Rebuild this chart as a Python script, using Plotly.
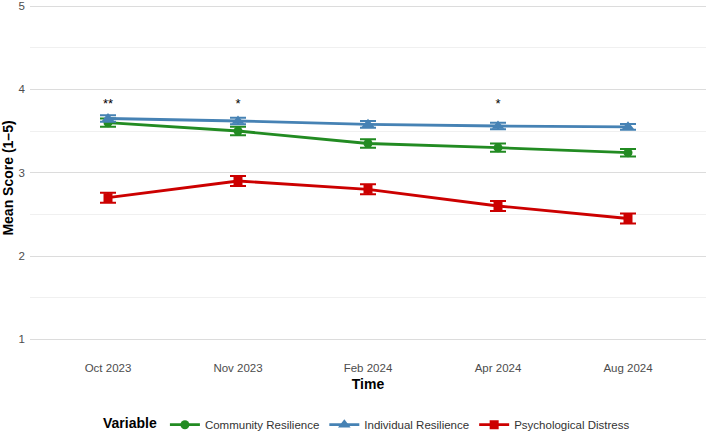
import plotly.graph_objects as go

times = ["Oct 2023", "Nov 2023", "Feb 2024", "Apr 2024", "Aug 2024"]
community = [3.60, 3.50, 3.35, 3.30, 3.24]
community_se = [0.05, 0.05, 0.05, 0.05, 0.045]
individual = [3.65, 3.62, 3.58, 3.56, 3.55]
individual_se = [0.04, 0.04, 0.04, 0.04, 0.035]
distress = [2.70, 2.90, 2.80, 2.60, 2.45]
distress_se = [0.06, 0.06, 0.06, 0.06, 0.06]
sig_times = ["Oct 2023", "Nov 2023", "Apr 2024"]
sig_labels = ["**", "*", "*"]
sig_y = [3.82, 3.82, 3.82]

series = [
    ("Community Resilience", community, community_se, "#228B22", "circle", 9),
    ("Individual Resilience", individual, individual_se, "#4682B4", "triangle-up", 11),
    ("Psychological Distress", distress, distress_se, "#CC0000", "square", 9),
]

fig = go.Figure()
for name, vals, se, col, sym, sz in series:
    fig.add_trace(go.Scatter(
        x=times, y=vals, name=name, mode="lines+markers",
        line=dict(color=col, width=2.8),
        marker=dict(color=col, symbol=sym, size=sz),
        error_y=dict(type="data", array=se, color=col, thickness=2, width=8),
    ))

fig.add_trace(go.Scatter(
    x=sig_times, y=sig_y, text=sig_labels, mode="text", showlegend=False,
    textfont=dict(size=13, color="black", family="Liberation Sans"),
    hoverinfo="skip",
))

fig.update_layout(
    width=709, height=432,
    margin=dict(l=30, r=3, t=0, b=76, autoexpand=False),
    plot_bgcolor="white", paper_bgcolor="white",
    font=dict(family="Liberation Sans, Arial, sans-serif", color="#4d4d4d", size=11.5),
    legend=dict(
        orientation="h", x=0.5, xanchor="center", y=-0.193, yanchor="middle",
        title=dict(text="<b>Variable</b>", font=dict(size=14, color="black")),
        font=dict(size=11.5, color="#333333"),
    ),
    xaxis=dict(
        type="category", categoryorder="array", categoryarray=times,
        range=[-0.6, 4.6], showgrid=False, zeroline=False, automargin=False,
        ticks="", tickfont=dict(size=11.5, color="#4d4d4d"), ticklabelstandoff=3,
        title=dict(text="<b>Time</b>", font=dict(size=14, color="black"), standoff=6),
    ),
    yaxis=dict(
        range=[0.8, 5.072], tickvals=[1, 2, 3, 4, 5], automargin=False,
        ticklabeloverflow="allow",
        showgrid=True, gridcolor="#DCDCDC", gridwidth=1, zeroline=False,
        minor=dict(tickvals=[1.5, 2.5, 3.5, 4.5], showgrid=True, gridcolor="#F0F0F0", gridwidth=1),
        ticks="", tickfont=dict(size=11.5, color="#4d4d4d"), ticklabelstandoff=4,
        title=dict(text="<b>Mean Score (1–5)</b>", font=dict(size=14, color="black"), standoff=2),
    ),
)

fig.write_html("out.html", config={"displayModeBar": False},
               post_script="document.body.style.margin='0';")
